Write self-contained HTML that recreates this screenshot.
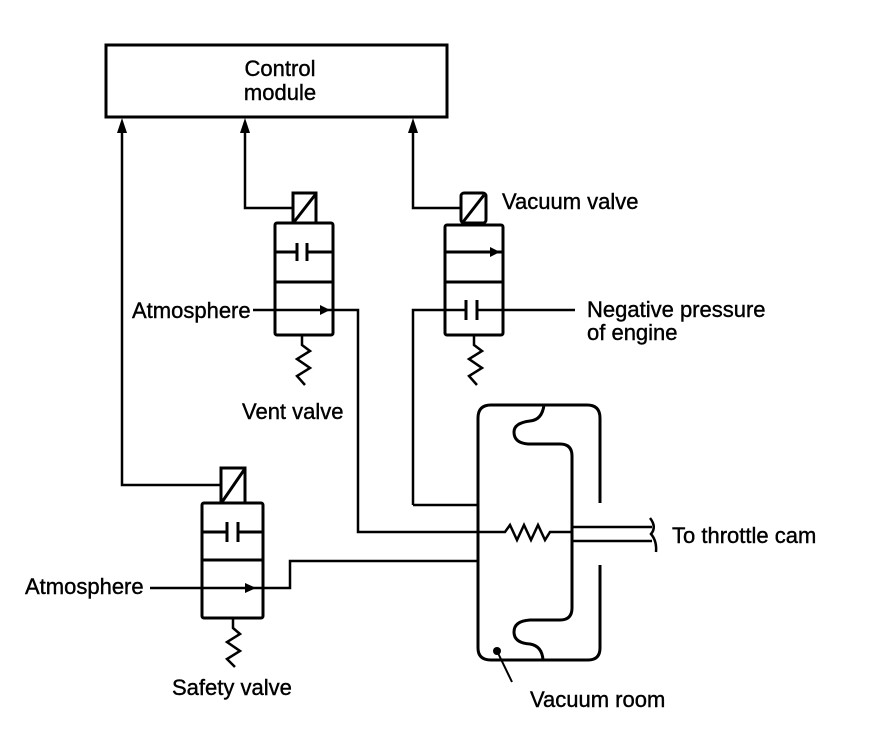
<!DOCTYPE html>
<html><head><style>
html,body{margin:0;padding:0;background:#fff;}
text{font-family:"Liberation Sans",sans-serif;font-size:22px;fill:#000;stroke:#000;stroke-width:0.4;}
</style></head><body>
<svg width="880" height="750" viewBox="0 0 880 750" xmlns="http://www.w3.org/2000/svg">
<g fill="none" stroke="#000" stroke-width="3" stroke-linejoin="miter">
<rect x="106" y="45" width="341" height="72"/>
<polyline points="122,122 122,485 221,485" stroke-width="2.5"/>
<polyline points="245,122 245,208 293,208" stroke-width="2.5"/>
<polyline points="413,122 413,208 461,208" stroke-width="2.5"/>

<rect x="293" y="193" width="23" height="30"/>
<line x1="294" y1="222" x2="315" y2="195"/>
<rect x="275" y="223" width="58" height="112" rx="2"/>
<line x1="275" y1="282" x2="333" y2="282"/>
<line x1="275" y1="252" x2="297" y2="252"/>
<line x1="307" y1="252" x2="333" y2="252"/>
<line x1="297" y1="243" x2="297" y2="261"/>
<line x1="307" y1="243" x2="307" y2="261"/>
<polyline points="253,310 358,310 358,532 478,532" stroke-width="2.5"/>
<polyline points="302,335 302,345 310,351 297,359 310,368 297,376 305,385" stroke-width="2.5"/>

<rect x="461" y="193" width="25" height="30" rx="3"/>
<line x1="463" y1="222" x2="484" y2="195"/>
<rect x="445" y="225" width="58" height="110" rx="2"/>
<line x1="445" y1="282" x2="503" y2="282"/>
<line x1="445" y1="252" x2="503" y2="252"/>
<polyline points="413,505 413,310 466,310" stroke-width="2.5"/>
<line x1="477" y1="310" x2="575" y2="310" stroke-width="2.5"/>
<line x1="466" y1="300" x2="466" y2="320"/>
<line x1="477" y1="300" x2="477" y2="320"/>
<polyline points="413,505 478,505" stroke-width="2.5"/>
<polyline points="474,335 474,345 482,351 469,359 482,368 469,376 477,385" stroke-width="2.5"/>

<rect x="221" y="468" width="24" height="35"/>
<line x1="222" y1="502" x2="244" y2="470"/>
<rect x="202" y="503" width="61" height="115" rx="2"/>
<line x1="202" y1="560" x2="263" y2="560"/>
<line x1="202" y1="532" x2="227" y2="532"/>
<line x1="238" y1="532" x2="263" y2="532"/>
<line x1="227" y1="522" x2="227" y2="542"/>
<line x1="238" y1="522" x2="238" y2="542"/>
<polyline points="150,588 290,588 290,561 478,561" stroke-width="2.5"/>
<polyline points="233,618 233,628 240,634 227,642 240,651 227,659 235,667" stroke-width="2.5"/>

<path d="M600,503 V418 Q600,405 587,405 H544 Q542,420 530,421 Q514,423 514,432 Q514,443 528,444 H560 Q572,444 572,456 V608 Q572,620 560,620 H530 Q514,621 514,632 Q514,643 530,644 Q542,646 543,660 H588 Q600,660 600,648 V565"/>
<path d="M544,660 H491 Q478,660 478,648 V418 Q478,405 491,405 H544"/>
<polyline points="478,532 505,532 510,525 517,540 524,525 531,540 538,525 545,540 550,532 572,532" stroke-width="2.5"/>
<line x1="572" y1="527" x2="652" y2="527" stroke-width="2.5"/>
<line x1="572" y1="541" x2="652" y2="541" stroke-width="2.5"/>
<path d="M650,518 Q657,527 651,534 Q657,541 656,552" stroke-width="2.5"/>
<line x1="497" y1="651" x2="512" y2="682" stroke-width="2"/>
</g>
<g fill="#000">
<circle cx="497" cy="651" r="4"/>
<polygon points="122,118 117,133 127,133"/>
<polygon points="245,118 240,133 250,133"/>
<polygon points="413,118 408,133 418,133"/>
<polygon points="320,305 320,315 330,310"/>
<polygon points="490,247 490,257 500,252"/>
<polygon points="245,583 245,593 256,588"/>
</g>
<text x="280" y="76" text-anchor="middle">Control</text>
<text x="280" y="100" text-anchor="middle">module</text>
<text x="132" y="318">Atmosphere</text>
<text x="242" y="419">Vent valve</text>
<text x="502" y="209">Vacuum valve</text>
<text x="587" y="317">Negative pressure</text>
<text x="587" y="340">of engine</text>
<text x="672" y="543">To throttle cam</text>
<text x="25" y="594">Atmosphere</text>
<text x="172" y="695">Safety valve</text>
<text x="530" y="707">Vacuum room</text>
</svg>
</body></html>
